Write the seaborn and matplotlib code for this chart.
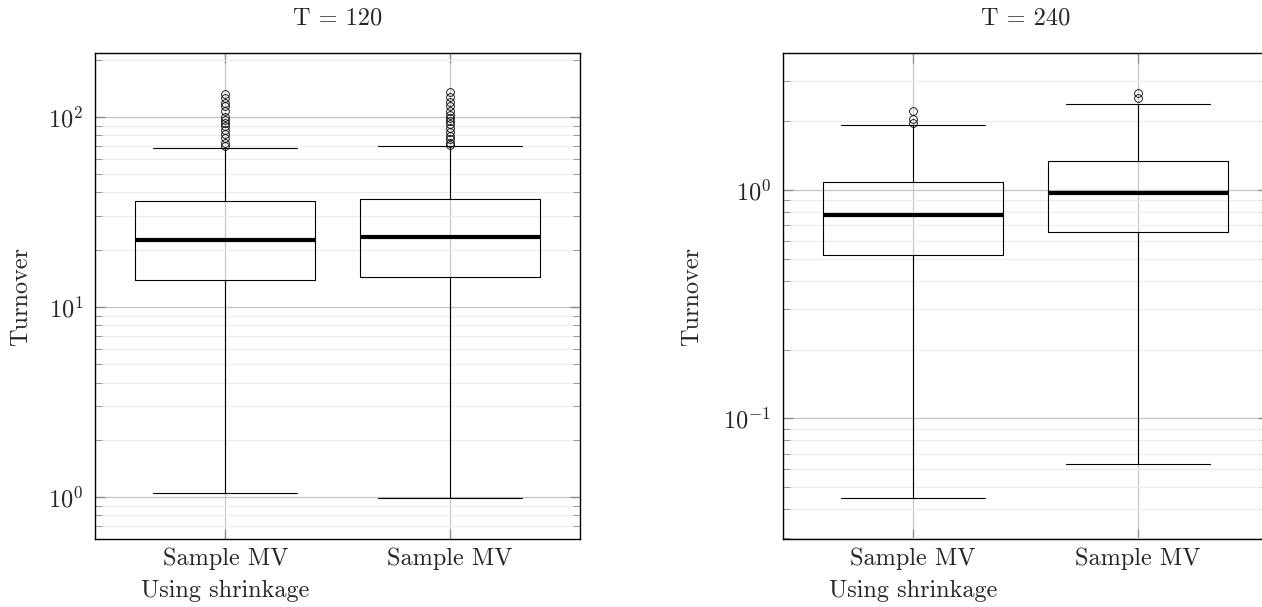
import numpy as np
import pandas as pd
import seaborn as sns
import matplotlib.pyplot as plt
from matplotlib.ticker import LogLocator, NullFormatter, LogFormatterSciNotation

# ---------------- data ----------------
categories = ["Sample MV\nUsing shrinkage", "Sample MV"]

# T = 120
t120_whisker_low = [1.046, 0.984]
t120_q1 = [13.82, 14.44]
t120_median = [22.6, 23.3]
t120_q3 = [36.0, 36.8]
t120_whisker_high = [68.7, 70.0]
t120_outliers = [
    [70.0, 73.2, 77.2, 81.4, 85.4, 89.6, 93.3, 96.4, 100.4, 107.0, 114.0, 119.0, 125.0, 131.6],
    [71.0, 72.7, 76.3, 79.4, 83.7, 87.2, 91.9, 95.6, 98.4, 102.4, 107.9, 114.3, 120.4, 127.9, 134.8],
]

# T = 240
t240_whisker_low = [0.0448, 0.0631]
t240_q1 = [0.521, 0.655]
t240_median = [0.775, 0.967]
t240_q3 = [1.087, 1.344]
t240_whisker_high = [1.93, 2.37]
t240_outliers = [
    [1.97, 2.04, 2.22],
    [2.52, 2.65],
]


def build_frame(lo, q1, med, q3, hi, outl, reps=100):
    """Sample whose quartiles / whiskers / fliers equal the summary values."""
    rows = []
    for i, cat in enumerate(categories):
        vals = ([lo[i]] + [q1[i]] * reps + [med[i]] * reps + [q3[i]] * reps
                + [hi[i]] + list(outl[i]))
        rows += [(cat, v) for v in vals]
    return pd.DataFrame(rows, columns=["method", "turnover"])


df120 = build_frame(t120_whisker_low, t120_q1, t120_median, t120_q3,
                    t120_whisker_high, t120_outliers)
df240 = build_frame(t240_whisker_low, t240_q1, t240_median, t240_q3,
                    t240_whisker_high, t240_outliers)

# ---------------- style ----------------
sns.set_theme(style="white")
plt.rcParams["font.family"] = ["cmr10", "DejaVu Serif"]
plt.rcParams["mathtext.fontset"] = "cm"
plt.rcParams["axes.formatter.use_mathtext"] = True
plt.rcParams["axes.unicode_minus"] = True

FS = 17.5

fig = plt.figure(figsize=(12.62, 6.07), dpi=100)
W, H = 1262.0, 607.0
ax_w = 485.0 / W
ax_h = 485.4 / H
ax_b = (H - 538.7) / H
ax1 = fig.add_axes([95.0 / W, ax_b, ax_w, ax_h])
ax2 = fig.add_axes([782.7 / W, ax_b, ax_w, ax_h])

panels = [
    (ax1, df120, "T = 120", (0.603, 216.0), -0.1300),
    (ax2, df240, "T = 240", (0.0297, 3.97), -0.1645),
]

for ax, df, title, ylim, labx in panels:
    sns.boxplot(
        data=df, x="method", y="turnover", ax=ax,
        fill=False, color="black", linewidth=0.8, width=0.8,
        whis=1.5, fliersize=5.6, capwidths=0.64,
        medianprops=dict(linewidth=3.0, color="black", solid_capstyle="butt"),
        flierprops=dict(marker="o", markerfacecolor="none",
                        markeredgecolor="black", markeredgewidth=0.6),
    )
    ax.set_yscale("log")
    ax.set_ylim(*ylim)
    ax.set_xlim(-0.58, 1.578)

    ax.yaxis.set_major_locator(LogLocator(base=10, numticks=10))
    ax.yaxis.set_minor_locator(LogLocator(base=10, subs=np.arange(2, 10), numticks=100))
    ax.yaxis.set_major_formatter(LogFormatterSciNotation())
    ax.yaxis.set_minor_formatter(NullFormatter())

    ax.set_axisbelow(True)
    ax.yaxis.grid(True, which="major", color="#c4c4c4", linewidth=0.9)
    ax.yaxis.grid(True, which="minor", color="#ededed", linewidth=0.9)
    ax.xaxis.grid(True, which="major", color="#c8c8c8", linewidth=0.9)

    ax.tick_params(axis="y", which="major", direction="in", left=True, right=True,
                   length=7, width=0.9, color="#8c8c8c", labelsize=FS, pad=8.5)
    ax.tick_params(axis="y", which="minor", direction="in", left=True, right=True,
                   length=5, width=0.7, color="#9a9a9a")
    ax.tick_params(axis="x", which="major", direction="in", bottom=True, top=True,
                   length=7, width=0.9, color="#8c8c8c", labelsize=FS, pad=6)
    for lab in ax.get_xticklabels():
        lab.set_linespacing(1.6)

    for sp in ax.spines.values():
        sp.set_color("black")
        sp.set_linewidth(1.0)

    ax.set_xlabel("")
    ax.set_ylabel("Turnover", fontsize=FS)
    ax.yaxis.set_label_coords(labx, 0.5)
    ax.set_title(title, fontsize=FS, pad=21)

fig.savefig("out.png", dpi=100)
